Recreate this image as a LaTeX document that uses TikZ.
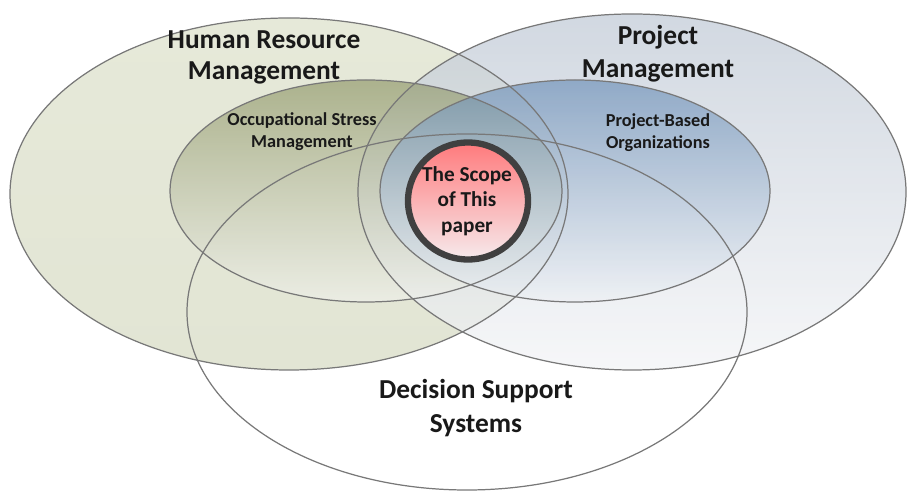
\documentclass[tikz,border=0pt]{standalone}
\usepackage{fontspec}
\setmainfont{Carlito}
\usepackage{tikz}
\usetikzlibrary{shapes, positioning}

\definecolor{rimgray}{HTML}{787878}
\definecolor{ringgray}{HTML}{404040}
\definecolor{hrmtop}{HTML}{E6E9D9}
\definecolor{hrmbot}{HTML}{E2E5D4}
\definecolor{pmtop}{HTML}{C2CBD7}
\definecolor{pmbot}{HTML}{F3F4F6}
\definecolor{osmtop}{HTML}{8E9666}
\definecolor{osmbot}{HTML}{F0F1EC}
\definecolor{pbotop}{HTML}{6A8EB7}
\definecolor{pbobot}{HTML}{EEF1F5}
\definecolor{scopetop}{HTML}{FF7A7C}
\definecolor{scopebot}{HTML}{F6EAEC}

\begin{document}
\begin{tikzpicture}[x=0.02cm, y=-0.02cm]
\tikzset{rim/.style = {draw=rimgray, line width=0.7pt},
         areatitle/.style = {font=\bfseries\fontsize{15.6}{#1}\selectfont, align=center, text=black!90, inner sep=0pt},
         subtitle/.style = {font=\bfseries\fontsize{10.4}{12.4}\selectfont, align=center, text=black!90, inner sep=0pt},
         scopetext/.style = {font=\bfseries\fontsize{12.1}{14.5}\selectfont, align=center, text=black!90, inner sep=0pt}}
\useasboundingbox (0,0) rectangle (909,492);
            % areas
	\shade[top color=hrmtop, bottom color=hrmbot] (289,194) ellipse (279 and 176);
	\shade[top color=pmtop, bottom color=pmbot, fill opacity=0.75] (632,192) ellipse (274 and 178);
	\shade[top color=osmtop, bottom color=osmbot, fill opacity=0.65] (366,191) ellipse (196 and 111);
	\shade[top color=pbotop, bottom color=pbobot, fill opacity=0.65] (575,191) ellipse (195 and 111);
            % outlines
	\draw[rim] (289,194) ellipse (279 and 176);
	\draw[rim] (632,192) ellipse (274 and 178);
	\draw[rim] (366,191) ellipse (196 and 111);
	\draw[rim] (575,191) ellipse (195 and 111);
	\draw[rim] (467,312) ellipse (280 and 178);
            % scope
	\shade[top color=scopetop, bottom color=scopebot] (468,201) ellipse (60 and 58.5);
	\draw[ringgray, line width=3.6pt] (468,201) ellipse (60 and 58.5);
            % labels
	\node[areatitle=17.6pt] (hrm) at (264,57) {Human Resource\\Management};
	\node[areatitle=18.7pt] (pm) at (658,54) {Project\\Management};
	\node[areatitle=19.8pt] (dss) at (476,408) {Decision Support\\Systems};
	\node[subtitle] (osm) at (302,132) {Occupational Stress\\Management};
	\node[subtitle] (pbo) at (658,133) {Project-Based\\Organizations};
	\node[scopetext] (scope) at (467,201) {The Scope\\of This\\paper};
\end{tikzpicture}
\end{document}
